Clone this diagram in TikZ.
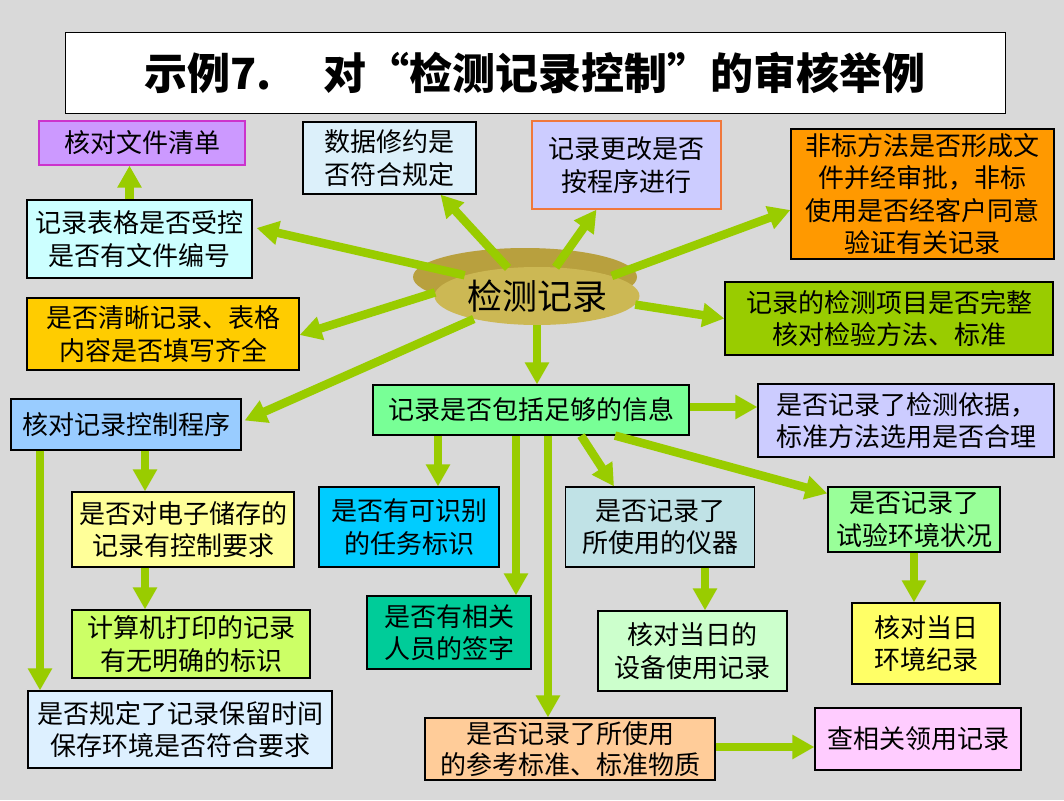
\documentclass[tikz,border=0pt]{standalone}
\usepackage{fontspec}
\setmainfont{Noto Sans CJK SC}
\usetikzlibrary{arrows.meta,shapes.geometric,calc}
\definecolor{bg}{RGB}{217,217,217}
\definecolor{arrowc}{RGB}{153,204,0}
\definecolor{goldback}{RGB}{184,160,62}
\definecolor{goldfront}{RGB}{204,184,84}
\definecolor{c1}{RGB}{204,153,255}
\definecolor{c1b}{RGB}{204,51,204}
\definecolor{c2}{RGB}{204,255,255}
\definecolor{c3}{RGB}{220,240,250}
\definecolor{c4}{RGB}{204,204,255}
\definecolor{c4b}{RGB}{240,120,60}
\definecolor{c5}{RGB}{255,153,0}
\definecolor{c6}{RGB}{153,204,0}
\definecolor{c7}{RGB}{255,204,0}
\definecolor{c8}{RGB}{153,204,255}
\definecolor{c9}{RGB}{120,255,150}
\definecolor{c10}{RGB}{204,204,255}
\definecolor{c11}{RGB}{255,255,153}
\definecolor{c12}{RGB}{0,204,255}
\definecolor{c13}{RGB}{192,226,230}
\definecolor{c14}{RGB}{153,255,153}
\definecolor{c15}{RGB}{204,255,102}
\definecolor{c16}{RGB}{0,204,153}
\definecolor{c17}{RGB}{204,255,204}
\definecolor{c18}{RGB}{255,255,102}
\definecolor{c19}{RGB}{221,240,255}
\definecolor{c20}{RGB}{255,204,153}
\definecolor{c21}{RGB}{255,204,255}
\begin{document}
\begin{tikzpicture}[x=1pt,y=-1pt,
  box/.style={draw=black,line width=1.2pt,align=center,inner sep=0pt,
    font=\fontsize{26}{32.5}\selectfont},
  arr/.style={draw=arrowc,line width=8.5pt,-{Triangle[width=23pt,length=22pt]}}]
\useasboundingbox (0,0) rectangle (1064,800);
\fill[bg] (0,0) rectangle (1064,800);
% title
\node[draw=black,line width=1pt,fill=white,minimum width=940pt,minimum height=80pt,inner sep=0pt,
  font=\fontsize{43}{50}\bfseries\selectfont] (title) at (535,73) {示例7.\hspace{1.2em}对“检测记录控制”的审核举例};
% center ellipse
\fill[goldback] (525,277) ellipse [x radius=112pt, y radius=29pt];
\node[ellipse,fill=goldfront,minimum width=205pt,minimum height=58pt,inner sep=0pt,
  font=\fontsize{35}{40}\selectfont] (c) at (537,296) {检测记录};
% boxes
\node[box,fill=c1,draw=c1b,minimum width=206pt,minimum height=44pt] (n1) at (142,143) {核对文件清单};
\node[box,fill=c2,minimum width=225pt,minimum height=78pt] (n2) at (139.5,239) {记录表格是否受控\\是否有文件编号};
\node[box,fill=c3,minimum width=173pt,minimum height=72pt] (n3) at (389.5,158) {数据修约是\\否符合规定};
\node[box,fill=c4,draw=c4b,minimum width=189pt,minimum height=88pt] (n4) at (626.5,165) {记录更改是否\\按程序进行};
\node[box,fill=c5,minimum width=263pt,minimum height=130pt] (n5) at (922.5,194) {非标方法是否形成文\\件并经审批，非标\\使用是否经客户同意\\验证有关记录};
\node[box,fill=c6,minimum width=328pt,minimum height=73pt] (n6) at (889,318.5) {记录的检测项目是否完整\\核对检验方法、标准};
\node[box,fill=c7,minimum width=272pt,minimum height=72pt] (n7) at (163,334) {是否清晰记录、表格\\内容是否填写齐全};
\node[box,fill=c8,minimum width=230pt,minimum height=51pt] (n8) at (126,424.5) {核对记录控制程序};
\node[box,fill=c9,minimum width=316pt,minimum height=50pt] (n9) at (531,410) {记录是否包括足够的信息};
\node[box,fill=c10,minimum width=296pt,minimum height=73pt] (n10) at (906,420.5) {是否记录了检测依据，\\标准方法选用是否合理};
\node[box,fill=c11,minimum width=222pt,minimum height=75pt] (n11) at (183,529.5) {是否对电子储存的\\记录有控制要求};
\node[box,fill=c12,minimum width=180pt,minimum height=80pt] (n12) at (409,527) {是否有可识别\\的任务标识};
\node[box,fill=c13,minimum width=189pt,minimum height=80pt] (n13) at (660,527) {是否记录了\\所使用的仪器};
\node[box,fill=c14,minimum width=172pt,minimum height=65pt] (n14) at (914,519.5) {是否记录了\\试验环境状况};
\node[box,fill=c15,minimum width=238pt,minimum height=68pt] (n15) at (191,644) {计算机打印的记录\\有无明确的标识};
\node[box,fill=c16,minimum width=164pt,minimum height=73pt] (n16) at (449,632.5) {是否有相关\\人员的签字};
\node[box,fill=c17,minimum width=189pt,minimum height=80pt] (n17) at (692.5,651) {核对当日的\\设备使用记录};
\node[box,fill=c18,minimum width=148pt,minimum height=81pt] (n18) at (926,643.5) {核对当日\\环境纪录};
\node[box,fill=c19,minimum width=304pt,minimum height=77pt] (n19) at (180,729.5) {是否规定了记录保留时间\\保存环境是否符合要求};
\node[box,fill=c20,minimum width=290pt,minimum height=62pt,font=\fontsize{26}{31}\selectfont] (n20) at (570,749) {是否记录了所使用\\的参考标准、标准物质};
\node[box,fill=c21,minimum width=206pt,minimum height=62pt] (n21) at (918,739) {查相关领用记录};
% arrows
\draw[arr] ([xshift=-10pt]n2.north) -- ([xshift=-10pt]n2.north |- n1.south);
\draw[arr] (c.164) -- ([yshift=11pt,xshift=4pt]n2.east);
\draw[arr] (c.136) -- ([xshift=51pt]n3.south);
\draw[arr] (c.57) -- ([xshift=-30pt]n4.south);
\draw[arr] (c.15) -- ([yshift=-16pt]n5.west);
\draw[arr] (c.-5) -- (n6.west);
\draw[arr] (c.178) -- ([yshift=-1pt]n7.east);
\draw[arr] (c.200) -- ([xshift=3pt,yshift=4pt]n8.east);
\draw[arr] (c.south) -- (c.south |- n9.north);
\draw[arr] ([yshift=3pt]n9.east) -- ([yshift=3pt]n9.east -| n10.west);
\draw[arr] ([xshift=-93pt]n9.south) -- ([xshift=-93pt]n9.south |- n12.north);
\draw[arr] ([xshift=-15pt]n9.south) -- ([xshift=-15pt]n9.south |- n16.north);
\draw[arr] ([xshift=17pt]n9.south) -- ([xshift=17pt]n9.south |- n20.north);
\draw[arr] ([xshift=50pt]n9.south) -- ([xshift=-46pt]n13.north);
\draw[arr] ([xshift=84pt]n9.south) -- ([yshift=-7pt]n14.north west);
\draw[arr] ([xshift=45pt]n13.south) -- ([xshift=45pt]n13.south |- n17.north);
\draw[arr] (n14.south) -- (n14.south |- n18.north);
\draw[arr] ([yshift=2pt]n20.east) -- ([yshift=2pt]n20.east -| n21.west);
\draw[arr] ([xshift=19pt]n8.south) -- ([xshift=19pt]n8.south |- n11.north);
\draw[arr] ([xshift=-38pt]n11.south) -- ([xshift=-38pt]n11.south |- n15.north);
\draw[arr] ([xshift=-86pt]n8.south) -- ([xshift=-86pt]n8.south |- n19.north);
\end{tikzpicture}
\end{document}
